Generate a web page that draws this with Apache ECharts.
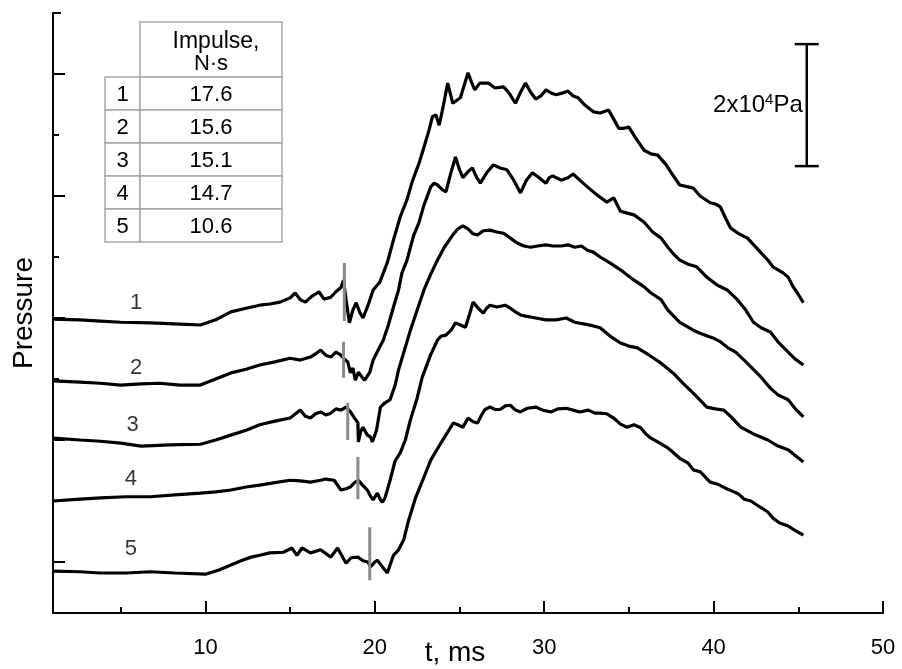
<!DOCTYPE html>
<html><head><meta charset="utf-8">
<script src="https://cdn.jsdelivr.net/npm/echarts@6/dist/echarts.min.js"></script>
<style>html,body{margin:0;padding:0;background:#fff}#c{width:902px;height:669px}</style>
</head><body><div id="c"></div>
<script>
// ---- data (t in ms, pressure in kPa, curves offset vertically) ----
const curve1 = [[1.0,39.8],[2.6,39.7],[3.8,39.5],[5.0,39.3],[6.75,39.2],[8.5,39.0],[9.7,38.85],[10.6,39.7],[11.5,41.0],[12.4,41.6],[13.2,42.1],[13.8,42.3],[14.4,42.6],[15.0,43.3],[15.3,44.1],[15.6,43.0],[15.9,42.6],[16.3,43.6],[16.7,44.3],[17.0,43.1],[17.4,43.4],[17.7,44.3],[18.0,45.0],[18.15,46.2],[18.3,43.0],[18.5,39.2],[18.7,41.3],[18.9,42.5],[19.1,41.0],[19.3,40.0],[19.6,42.1],[19.9,44.6],[20.3,45.9],[20.75,49.2],[21.1,52.8],[21.5,56.6],[21.9,59.4],[22.2,62.3],[22.6,65.3],[22.9,68.0],[23.2,70.8],[23.4,73.0],[23.6,73.3],[23.8,71.6],[24.05,74.9],[24.3,78.5],[24.6,75.2],[25.05,76.1],[25.5,80.2],[25.7,78.7],[25.9,77.4],[26.2,78.5],[26.7,78.5],[27.1,77.7],[27.6,77.9],[27.9,77.0],[28.3,75.2],[28.6,77.0],[28.9,78.5],[29.2,77.0],[29.5,75.9],[29.8,76.4],[30.1,77.4],[30.4,76.9],[30.7,76.6],[31.1,76.9],[31.4,77.2],[31.7,76.4],[32.0,76.1],[32.4,74.9],[32.9,73.8],[33.3,73.6],[33.8,74.1],[34.1,72.6],[34.4,71.1],[34.7,71.1],[35.0,71.3],[35.4,69.5],[35.9,67.5],[36.3,66.9],[36.7,66.7],[37.2,65.1],[37.6,63.4],[38.0,61.8],[38.5,61.5],[38.8,61.3],[39.2,60.0],[39.8,58.9],[40.1,58.7],[40.4,58.2],[40.7,56.4],[41.0,54.75],[41.5,53.8],[42.0,53.1],[42.6,51.3],[43.2,49.5],[43.5,48.4],[43.8,47.9],[44.1,47.4],[44.4,46.7],[44.7,45.1],[44.95,44.1],[45.3,42.5]];
const curve2 = [[1.0,29.7],[2.6,29.5],[3.8,29.3],[5.0,29.0],[6.2,29.2],[7.3,29.3],[8.5,29.0],[9.7,29.0],[10.6,30.0],[11.5,31.0],[12.4,31.6],[13.2,32.3],[14.1,32.8],[15.0,33.4],[15.6,33.1],[16.2,33.6],[16.5,34.1],[16.8,34.75],[17.1,33.9],[17.4,33.6],[17.7,34.4],[18.0,33.9],[18.15,33.4],[18.4,32.8],[18.56,31.0],[18.7,31.8],[18.85,29.8],[19.03,31.1],[19.27,30.2],[19.4,29.8],[19.7,31.1],[19.9,33.1],[20.2,34.75],[20.5,36.4],[20.8,38.85],[21.1,41.8],[21.4,44.6],[21.6,47.4],[21.9,49.5],[22.1,51.6],[22.3,53.6],[22.6,55.6],[22.9,58.5],[23.3,61.5],[23.5,62.1],[23.7,61.8],[24.0,61.0],[24.2,60.7],[24.5,63.9],[24.76,66.4],[25.0,64.3],[25.2,63.0],[25.5,64.0],[25.76,64.6],[26.0,63.1],[26.23,62.1],[26.6,63.8],[27.0,65.1],[27.4,64.6],[27.8,64.3],[28.2,62.6],[28.6,60.5],[28.95,62.6],[29.3,63.8],[29.7,63.0],[30.1,62.1],[30.3,63.0],[30.5,63.3],[31.0,62.6],[31.4,63.0],[31.7,63.6],[32.1,62.6],[32.55,61.5],[33.1,60.2],[33.7,59.0],[34.1,59.7],[34.5,57.5],[34.9,57.2],[35.3,56.9],[35.9,55.7],[36.4,54.1],[36.9,53.1],[37.3,51.6],[37.7,50.3],[38.0,49.5],[38.5,48.8],[39.0,48.4],[39.6,46.7],[40.2,45.4],[40.8,44.6],[41.4,43.0],[41.9,41.3],[42.35,39.3],[42.8,38.4],[43.35,37.7],[43.8,36.1],[44.4,34.4],[44.8,33.3],[45.3,32.3]];
const curve3 = [[1.0,20.3],[2.6,20.0],[3.8,19.8],[5.0,19.5],[6.2,19.0],[7.9,19.2],[9.7,19.3],[10.6,20.0],[11.5,20.8],[12.4,21.6],[13.2,22.5],[14.1,23.1],[15.0,23.6],[15.6,24.9],[15.9,23.9],[16.2,23.6],[16.5,24.3],[16.8,24.6],[17.1,24.1],[17.4,24.4],[17.7,25.1],[18.0,24.9],[18.3,25.4],[18.56,24.6],[18.8,23.6],[19.0,22.8],[19.03,19.7],[19.15,21.3],[19.3,22.1],[19.56,20.8],[19.74,20.5],[19.86,19.7],[20.1,21.6],[20.33,25.4],[20.6,26.1],[20.9,26.6],[21.2,29.0],[21.4,31.5],[21.75,34.75],[22.1,38.0],[22.5,41.3],[22.9,44.6],[23.3,47.2],[23.7,49.5],[24.1,51.6],[24.6,53.6],[24.9,54.6],[25.2,55.1],[25.5,54.6],[25.8,53.8],[26.06,53.6],[26.4,54.3],[26.8,54.4],[27.2,54.1],[27.6,53.9],[28.0,53.1],[28.4,52.3],[28.8,51.8],[29.2,51.6],[29.6,51.8],[30.1,52.0],[30.5,51.8],[31.0,51.8],[31.4,52.0],[31.8,51.6],[32.2,51.8],[32.55,51.1],[32.9,50.8],[33.3,50.0],[33.9,49.0],[34.5,47.9],[35.3,46.2],[35.9,45.1],[36.3,44.1],[36.9,43.0],[37.3,41.3],[38.0,39.3],[38.8,38.0],[39.2,37.5],[40.0,36.7],[40.4,36.1],[40.8,35.2],[41.3,34.4],[41.8,33.1],[42.2,32.0],[42.8,30.3],[43.35,28.5],[43.8,27.4],[44.4,26.6],[44.8,25.2],[45.3,23.8]];
const curve4 = [[1.0,10.0],[2.6,10.3],[3.8,10.5],[5.3,10.7],[6.75,10.7],[8.2,11.0],[9.7,11.3],[10.6,11.5],[11.5,11.8],[12.4,12.3],[13.2,12.6],[14.1,13.0],[15.0,13.4],[15.6,13.3],[16.2,13.1],[16.8,13.4],[17.1,13.6],[17.6,13.4],[18.0,11.8],[18.3,12.0],[18.56,12.3],[18.8,13.0],[19.03,13.4],[19.27,12.6],[19.56,11.8],[19.74,10.8],[19.9,10.2],[20.15,11.3],[20.33,10.2],[20.45,9.8],[20.6,10.5],[20.9,13.4],[21.2,16.6],[21.5,17.9],[21.8,20.0],[22.1,23.3],[22.5,26.9],[22.8,30.3],[23.3,34.0],[23.7,36.4],[23.9,37.0],[24.2,37.2],[24.5,38.0],[24.76,39.2],[25.05,38.85],[25.35,38.5],[25.6,40.7],[25.8,42.6],[26.1,41.6],[26.4,40.8],[26.6,41.6],[26.8,42.1],[27.2,41.8],[27.7,42.1],[28.0,41.6],[28.3,41.0],[28.6,40.5],[28.9,40.3],[29.5,40.0],[30.1,39.7],[30.7,39.7],[31.3,40.0],[31.8,39.3],[32.4,39.0],[32.9,38.7],[33.3,38.4],[33.9,37.0],[34.5,35.9],[35.0,35.4],[35.5,35.1],[36.2,33.9],[36.9,32.6],[37.6,31.0],[38.2,29.3],[38.9,27.4],[39.6,25.4],[40.1,25.1],[40.6,24.9],[41.1,23.6],[41.6,22.1],[42.35,21.0],[43.2,20.0],[43.8,19.0],[44.4,18.4],[44.8,17.5],[45.3,16.4]];
const curve5 = [[1.0,-1.5],[2.6,-1.6],[3.8,-1.8],[5.3,-1.8],[6.75,-1.6],[8.2,-1.8],[10.0,-2.0],[10.8,-1.3],[11.5,-0.5],[12.1,0.2],[12.7,0.8],[13.2,1.1],[13.8,1.5],[14.6,1.6],[15.1,2.3],[15.4,1.1],[15.7,2.3],[16.2,1.5],[16.8,2.0],[17.4,0.8],[17.8,2.3],[18.3,-0.2],[18.6,0.7],[19.0,0.8],[19.3,0.2],[19.6,0.0],[19.74,-0.8],[20.0,0.0],[20.15,0.3],[20.45,-0.8],[20.74,-1.8],[20.9,-0.5],[21.1,1.1],[21.4,2.0],[21.7,3.6],[22.0,6.9],[22.4,10.5],[22.9,13.9],[23.3,16.7],[23.9,19.5],[24.3,21.3],[24.64,22.8],[24.9,22.5],[25.2,22.1],[25.5,23.6],[25.8,23.0],[26.06,22.8],[26.3,24.1],[26.5,25.0],[26.8,25.4],[27.1,25.0],[27.4,25.0],[27.7,25.6],[28.0,25.7],[28.3,24.9],[28.6,24.6],[29.0,25.2],[29.5,25.4],[29.9,24.9],[30.4,24.6],[30.8,25.1],[31.3,25.2],[31.7,24.9],[32.1,24.6],[32.6,24.9],[33.0,24.4],[33.3,24.4],[33.7,24.3],[34.1,23.6],[34.5,22.6],[34.9,22.1],[35.3,22.5],[35.7,22.0],[36.0,21.0],[36.3,20.3],[36.7,19.7],[37.3,18.7],[37.6,18.0],[38.0,17.0],[38.5,16.2],[38.8,15.1],[39.2,14.8],[39.8,13.1],[40.2,12.8],[40.7,12.1],[41.2,11.5],[41.5,11.1],[41.8,10.3],[42.2,10.0],[42.8,8.9],[43.2,8.2],[43.5,7.2],[43.9,6.4],[44.4,5.9],[44.8,5.2],[45.3,4.4]];

const curveNames = ['1','2','3','4','5'];
const curveLabelT = [5.9, 5.9, 5.7, 5.6, 5.6];
const curveLabelP = [42.5, 31.8, 22.5, 13.6, 2.1];

const markerT  = [18.2, 18.15, 18.4, 19.0, 19.7];
const markerLo = [39.5, 30.2, 20.0, 10.3, -3.0];
const markerHi = [49.0, 36.1, 26.1, 17.2, 5.7];

const xMajorTicks = [10, 20, 30, 40, 50];
const xMinorTicks = [5, 15, 25, 35, 45];
const yMajorTicks = [0, 20, 40, 60, 80];
const yMinorTicks = [10, 30, 50, 70];
const yTopTick = [90];

const scaleBarT = 45.5, scaleBarLo = 64.9, scaleBarHi = 84.9; // 20 kPa = 2x10^4 Pa

const tableHeader = ['Impulse,', 'N·s'];
const tableIds = ['1', '2', '3', '4', '5'];
const tableImpulse = ['17.6', '15.6', '15.1', '14.7', '10.6'];

// ---- chart ----
const FONT = 'Liberation Sans, Arial, sans-serif';
const chart = echarts.init(document.getElementById('c'), null, {renderer: 'canvas'});
const curves = [curve1, curve2, curve3, curve4, curve5];

const series = [];
curves.forEach((c, i) => {
  series.push({type: 'line', name: curveNames[i], data: c, showSymbol: false, symbol: 'none',
    lineStyle: {color: '#000', width: 3.2}, z: 2, animation: false, silent: true});
});
markerT.forEach((t, i) => {
  series.push({type: 'line', data: [[t, markerLo[i]], [t, markerHi[i]]], showSymbol: false, symbol: 'none',
    lineStyle: {color: '#8a8a8a', width: 3}, z: 4, animation: false, silent: true});
});
series.push({type: 'scatter', symbolSize: 0, z: 5, silent: true, animation: false,
  data: curveNames.map((n, i) => ({name: n, value: [curveLabelT[i], curveLabelP[i]]})),
  label: {show: true, position: 'inside', formatter: p => p.name, fontSize: 22, color: '#000', fontFamily: FONT}
});
series.push({type: 'custom', z: 5, silent: true, animation: false,
  data: [[scaleBarT, scaleBarLo, scaleBarHi]],
  encode: {x: 0, y: [1, 2]},
  renderItem: (params, api) => {
    const top = api.coord([api.value(0), api.value(2)]);
    const bot = api.coord([api.value(0), api.value(1)]);
    const cap = 12;
    const st = {stroke: '#000', lineWidth: 2.5};
    return {type: 'group', children: [
      {type: 'line', shape: {x1: top[0], y1: top[1], x2: bot[0], y2: bot[1]}, style: st},
      {type: 'line', shape: {x1: top[0] - cap, y1: top[1], x2: top[0] + cap, y2: top[1]}, style: st},
      {type: 'line', shape: {x1: bot[0] - cap, y1: bot[1], x2: bot[0] + cap, y2: bot[1]}, style: st},
      {type: 'text', x: top[0] - 4, y: (top[1] + bot[1]) / 2,
        style: {text: '{n|2x10}{s|4}{n|Pa}', align: 'right', verticalAlign: 'middle', fill: '#000',
          rich: {n: {fontSize: 24, fontFamily: FONT, fill: '#000'}, s: {fontSize: 15, fontFamily: FONT, fill: '#000', padding: [0, 0, 10, 0]}}}}
    ]};
  }
});

// table graphic
const tb = {x0: 105, x1: 140, x2: 282, hTop: 22, rTop: 77, rowH: 33};
const border = {stroke: '#a6a6a6', lineWidth: 1.5, fill: '#fff'};
const g = [];
g.push({type: 'rect', shape: {x: tb.x1, y: tb.hTop, width: tb.x2 - tb.x1, height: tb.rTop - tb.hTop}, style: border});
g.push({type: 'text', x: (tb.x1 + tb.x2) / 2 + 5, y: tb.hTop + 20, style: {text: tableHeader[0], align: 'center', verticalAlign: 'middle', fontSize: 23, fontFamily: FONT, fill: '#000'}});
g.push({type: 'text', x: (tb.x1 + tb.x2) / 2, y: tb.hTop + 42, style: {text: tableHeader[1], align: 'center', verticalAlign: 'middle', fontSize: 22, fontFamily: FONT, fill: '#000'}});
tableIds.forEach((id, i) => {
  const y = tb.rTop + i * tb.rowH;
  g.push({type: 'rect', shape: {x: tb.x0, y: y, width: tb.x1 - tb.x0, height: tb.rowH}, style: border});
  g.push({type: 'rect', shape: {x: tb.x1, y: y, width: tb.x2 - tb.x1, height: tb.rowH}, style: border});
  g.push({type: 'text', x: (tb.x0 + tb.x1) / 2, y: y + tb.rowH / 2 + 1, style: {text: id, align: 'center', verticalAlign: 'middle', fontSize: 22, fontFamily: FONT, fill: '#000'}});
  g.push({type: 'text', x: (tb.x1 + tb.x2) / 2, y: y + tb.rowH / 2 + 1, style: {text: tableImpulse[i], align: 'center', verticalAlign: 'middle', fontSize: 22, fontFamily: FONT, fill: '#000'}});
});

const axLine = {show: true, onZero: false, lineStyle: {color: '#000', width: 2}};
const tickStyle = {color: '#000', width: 2};
const X_MIN = 1, X_MAX = 50, Y_MIN = -8.36, Y_MAX = 90;

chart.setOption({
  backgroundColor: '#fff',
  animation: false,
  textStyle: {fontFamily: FONT},
  grid: {left: 53, right: 19, top: 13, bottom: 56, containLabel: false, outerBoundsMode: 'none'},
  xAxis: [
    {type: 'value', min: X_MIN, max: X_MAX, position: 'bottom', axisLine: axLine,
      axisTick: {show: true, inside: true, length: 12, lineStyle: tickStyle, customValues: xMajorTicks},
      axisLabel: {show: true, customValues: xMajorTicks, fontSize: 22, color: '#000', margin: 24, fontFamily: FONT},
      splitLine: {show: false},
      name: 't, ms', nameLocation: 'middle', nameGap: 26, nameMoveOverlap: false,
      nameTextStyle: {fontSize: 28, color: '#000', fontFamily: FONT, padding: [0, 26, 0, 0]}},
    {type: 'value', min: X_MIN, max: X_MAX, position: 'bottom', axisLine: {show: false, onZero: false},
      axisTick: {show: true, inside: true, length: 6, lineStyle: tickStyle, customValues: xMinorTicks},
      axisLabel: {show: false}, splitLine: {show: false}}
  ],
  yAxis: [
    {type: 'value', min: Y_MIN, max: Y_MAX, position: 'left', axisLine: axLine,
      axisTick: {show: true, inside: true, length: 12, lineStyle: tickStyle, customValues: yMajorTicks},
      axisLabel: {show: false}, splitLine: {show: false},
      name: 'Pressure', nameLocation: 'middle', nameGap: 15, nameMoveOverlap: false,
      nameTextStyle: {fontSize: 28, color: '#000', fontFamily: FONT}},
    {type: 'value', min: Y_MIN, max: Y_MAX, position: 'left', offset: 0, axisLine: {show: false, onZero: false},
      axisTick: {show: true, inside: true, length: 6, lineStyle: tickStyle, customValues: yMinorTicks},
      axisLabel: {show: false}, splitLine: {show: false}},
    {type: 'value', min: Y_MIN, max: Y_MAX, position: 'left', offset: 0, axisLine: {show: false, onZero: false},
      axisTick: {show: true, inside: true, length: 8, lineStyle: tickStyle, customValues: yTopTick},
      axisLabel: {show: false}, splitLine: {show: false}}
  ],
  series: series,
  graphic: g
});
</script>
</body></html>
